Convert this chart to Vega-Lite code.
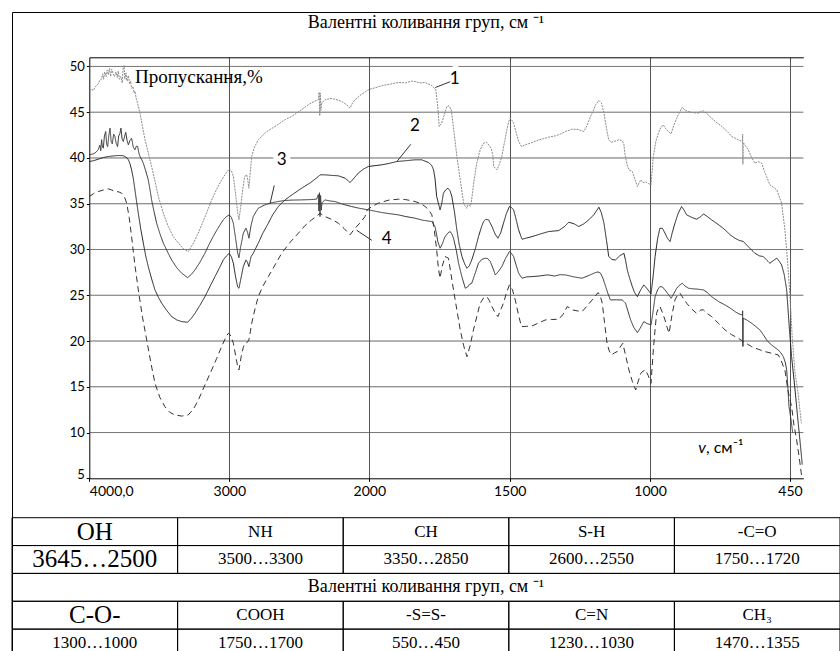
{
"$schema": "https://vega.github.io/schema/vega-lite/v6.json",
"width": 828, "height": 639,
"autosize": {"type": "none"},
"padding": {"left": 12, "top": 12, "right": 0, "bottom": 0},
"background": "white",
"config": {"view": {"stroke": "black", "strokeWidth": 1}},
"datasets": {
"sp": [
{"c":"g10","w":4000,"t":10},{"c":"g10","w":400,"t":10},{"c":"g15","w":4000,"t":15},{"c":"g15","w":400,"t":15},{"c":"g20","w":4000,"t":20},{"c":"g20","w":400,"t":20},{"c":"g25","w":4000,"t":25},{"c":"g25","w":400,"t":25},{"c":"g30","w":4000,"t":30},{"c":"g30","w":400,"t":30},{"c":"g35","w":4000,"t":35},{"c":"g35","w":400,"t":35},{"c":"g40","w":4000,"t":40},{"c":"g40","w":400,"t":40},{"c":"g45","w":4000,"t":45},{"c":"g45","w":400,"t":45},{"c":"g50","w":4000,"t":50},{"c":"g50","w":400,"t":50},
{"c":"1","w":4000,"t":47.27},{"c":"1","w":3985,"t":47.5},{"c":"1","w":3970,"t":47.4},{"c":"1","w":3960,"t":47.7},{"c":"1","w":3950,"t":47.9},{"c":"1","w":3936,"t":48.1},{"c":"1","w":3925,"t":48.5},{"c":"1","w":3912,"t":48.6},{"c":"1","w":3905,"t":49.2},{"c":"1","w":3898,"t":48.6},{"c":"1","w":3890,"t":49.4},{"c":"1","w":3880,"t":48.9},{"c":"1","w":3872,"t":49.6},{"c":"1","w":3864,"t":49.1},{"c":"1","w":3856,"t":49.8},{"c":"1","w":3848,"t":48.9},{"c":"1","w":3840,"t":49.7},{"c":"1","w":3830,"t":49.2},{"c":"1","w":3820,"t":48.9},{"c":"1","w":3810,"t":49.4},{"c":"1","w":3800,"t":48.8},{"c":"1","w":3793,"t":49.5},{"c":"1","w":3785,"t":48.6},{"c":"1","w":3775,"t":48.9},{"c":"1","w":3765,"t":48.2},{"c":"1","w":3758,"t":49.9},{"c":"1","w":3752,"t":50.1},{"c":"1","w":3746,"t":48.6},{"c":"1","w":3738,"t":49.3},{"c":"1","w":3730,"t":48.4},{"c":"1","w":3721,"t":49.0},{"c":"1","w":3712,"t":48.1},{"c":"1","w":3705,"t":48.4},{"c":"1","w":3698,"t":47.6},{"c":"1","w":3688,"t":47.8},{"c":"1","w":3680,"t":47.1},{"c":"1","w":3674,"t":47.3},{"c":"1","w":3665,"t":46.5},{"c":"1","w":3655,"t":46.0},{"c":"1","w":3645,"t":45.3},{"c":"1","w":3638,"t":44.9},{"c":"1","w":3620,"t":43.4},{"c":"1","w":3602,"t":42.0},{"c":"1","w":3578,"t":40.5},{"c":"1","w":3555,"t":39.07},{"c":"1","w":3530,"t":37.4},{"c":"1","w":3507,"t":35.8},{"c":"1","w":3470,"t":33.9},{"c":"1","w":3436,"t":32.5},{"c":"1","w":3400,"t":31.4},{"c":"1","w":3364,"t":30.7},{"c":"1","w":3330,"t":30.1},{"c":"1","w":3293,"t":29.77},{"c":"1","w":3260,"t":30.6},{"c":"1","w":3221,"t":31.8},{"c":"1","w":3170,"t":33.7},{"c":"1","w":3126,"t":35.4},{"c":"1","w":3090,"t":36.6},{"c":"1","w":3055,"t":37.6},{"c":"1","w":3025,"t":38.3},{"c":"1","w":3000,"t":38.8},{"c":"1","w":2985,"t":38.6},{"c":"1","w":2971,"t":37.97},{"c":"1","w":2955,"t":36.0},{"c":"1","w":2940,"t":34.0},{"c":"1","w":2931,"t":33.24},{"c":"1","w":2920,"t":34.5},{"c":"1","w":2905,"t":36.5},{"c":"1","w":2890,"t":37.97},{"c":"1","w":2876,"t":38.16},{"c":"1","w":2868,"t":37.6},{"c":"1","w":2860,"t":36.7},{"c":"1","w":2850,"t":38.5},{"c":"1","w":2840,"t":40.16},{"c":"1","w":2820,"t":41.2},{"c":"1","w":2793,"t":41.98},{"c":"1","w":2740,"t":42.8},{"c":"1","w":2674,"t":43.44},{"c":"1","w":2600,"t":44.2},{"c":"1","w":2555,"t":44.53},{"c":"1","w":2500,"t":45.1},{"c":"1","w":2436,"t":45.81},{"c":"1","w":2390,"t":46.2},{"c":"1","w":2364,"t":46.36},{"c":"1","w":2358,"t":47.2},{"c":"1","w":2354,"t":44.6},{"c":"1","w":2350,"t":47.1},{"c":"1","w":2346,"t":45.2},{"c":"1","w":2340,"t":46.0},{"c":"1","w":2317,"t":46.36},{"c":"1","w":2280,"t":46.5},{"c":"1","w":2245,"t":46.43},{"c":"1","w":2200,"t":46.2},{"c":"1","w":2160,"t":45.8},{"c":"1","w":2138,"t":45.44},{"c":"1","w":2120,"t":46.0},{"c":"1","w":2102,"t":46.36},{"c":"1","w":2060,"t":46.9},{"c":"1","w":2007,"t":47.45},{"c":"1","w":1956,"t":47.89},{"c":"1","w":1896,"t":48.25},{"c":"1","w":1870,"t":48.2},{"c":"1","w":1850,"t":48.4},{"c":"1","w":1837,"t":48.36},{"c":"1","w":1820,"t":48.2},{"c":"1","w":1801,"t":48.25},{"c":"1","w":1777,"t":47.89},{"c":"1","w":1763,"t":47.45},{"c":"1","w":1756,"t":45.6},{"c":"1","w":1751,"t":43.44},{"c":"1","w":1742,"t":43.8},{"c":"1","w":1724,"t":45.63},{"c":"1","w":1716,"t":45.7},{"c":"1","w":1708,"t":45.26},{"c":"1","w":1698,"t":42.8},{"c":"1","w":1688,"t":40.16},{"c":"1","w":1675,"t":37.4},{"c":"1","w":1664,"t":35.06},{"c":"1","w":1656,"t":34.6},{"c":"1","w":1652,"t":34.51},{"c":"1","w":1647,"t":35.06},{"c":"1","w":1640,"t":34.7},{"c":"1","w":1637,"t":35.06},{"c":"1","w":1627,"t":37.5},{"c":"1","w":1617,"t":39.43},{"c":"1","w":1605,"t":40.9},{"c":"1","w":1593,"t":41.62},{"c":"1","w":1581,"t":41.69},{"c":"1","w":1566,"t":41.07},{"c":"1","w":1560,"t":40.3},{"c":"1","w":1557,"t":39.07},{"c":"1","w":1545,"t":38.7},{"c":"1","w":1537,"t":39.3},{"c":"1","w":1528,"t":40.16},{"c":"1","w":1518,"t":41.8},{"c":"1","w":1510,"t":43.08},{"c":"1","w":1503,"t":44.0},{"c":"1","w":1498,"t":44.35},{"c":"1","w":1492,"t":44.1},{"c":"1","w":1486,"t":43.8},{"c":"1","w":1478,"t":42.9},{"c":"1","w":1468,"t":41.8},{"c":"1","w":1458,"t":41.25},{"c":"1","w":1444,"t":41.44},{"c":"1","w":1420,"t":41.69},{"c":"1","w":1396,"t":41.98},{"c":"1","w":1380,"t":42.1},{"c":"1","w":1361,"t":42.27},{"c":"1","w":1337,"t":42.42},{"c":"1","w":1320,"t":42.6},{"c":"1","w":1301,"t":42.89},{"c":"1","w":1277,"t":43.15},{"c":"1","w":1255,"t":43.1},{"c":"1","w":1236,"t":42.89},{"c":"1","w":1225,"t":43.5},{"c":"1","w":1212,"t":44.53},{"c":"1","w":1200,"t":45.3},{"c":"1","w":1194,"t":45.81},{"c":"1","w":1182,"t":46.28},{"c":"1","w":1173,"t":46.0},{"c":"1","w":1164,"t":44.9},{"c":"1","w":1155,"t":43.2},{"c":"1","w":1147,"t":41.98},{"c":"1","w":1138,"t":41.7},{"c":"1","w":1129,"t":41.8},{"c":"1","w":1111,"t":41.98},{"c":"1","w":1099,"t":41.9},{"c":"1","w":1093,"t":41.5},{"c":"1","w":1090,"t":40.52},{"c":"1","w":1082,"t":39.3},{"c":"1","w":1075,"t":38.7},{"c":"1","w":1063,"t":38.52},{"c":"1","w":1054,"t":37.7},{"c":"1","w":1045,"t":36.88},{"c":"1","w":1033,"t":37.61},{"c":"1","w":1025,"t":37.3},{"c":"1","w":1016,"t":37.4},{"c":"1","w":1005,"t":37.2},{"c":"1","w":996,"t":37.06},{"c":"1","w":987,"t":40.16},{"c":"1","w":977,"t":41.8},{"c":"1","w":967,"t":42.71},{"c":"1","w":958,"t":43.3},{"c":"1","w":948,"t":43.62},{"c":"1","w":938,"t":43.2},{"c":"1","w":928,"t":42.89},{"c":"1","w":917,"t":42.64},{"c":"1","w":906,"t":43.6},{"c":"1","w":895,"t":44.35},{"c":"1","w":884,"t":45.0},{"c":"1","w":873,"t":45.55},{"c":"1","w":862,"t":45.2},{"c":"1","w":849,"t":45.08},{"c":"1","w":830,"t":44.95},{"c":"1","w":810,"t":44.9},{"c":"1","w":800,"t":45.1},{"c":"1","w":790,"t":45.15},{"c":"1","w":775,"t":44.8},{"c":"1","w":758,"t":44.35},{"c":"1","w":740,"t":43.9},{"c":"1","w":718,"t":43.44},{"c":"1","w":700,"t":43.0},{"c":"1","w":679,"t":42.35},{"c":"1","w":653,"t":41.98},{"c":"1","w":637,"t":41.8},{"c":"1","w":636,"t":42.6},{"c":"1","w":635,"t":39.3},{"c":"1","w":634,"t":41.7},{"c":"1","w":614,"t":40.89},{"c":"1","w":600,"t":40.0},{"c":"1","w":588,"t":39.43},{"c":"1","w":575,"t":39.6},{"c":"1","w":561,"t":39.43},{"c":"1","w":550,"t":38.5},{"c":"1","w":542,"t":37.97},{"c":"1","w":529,"t":37.06},{"c":"1","w":515,"t":36.8},{"c":"1","w":502,"t":36.52},{"c":"1","w":483,"t":35.06},{"c":"1","w":470,"t":32.14},{"c":"1","w":459,"t":28.5},{"c":"1","w":450,"t":24.85},{"c":"1","w":441,"t":20.12},{"c":"1","w":431,"t":16.47},{"c":"1","w":421,"t":14.65},{"c":"1","w":413,"t":12.5},{"c":"1","w":407,"t":11.0},
{"c":"2","w":4000,"t":39.61},{"c":"2","w":3970,"t":39.7},{"c":"2","w":3936,"t":39.87},{"c":"2","w":3900,"t":40.05},{"c":"2","w":3864,"t":40.16},{"c":"2","w":3830,"t":40.22},{"c":"2","w":3793,"t":40.27},{"c":"2","w":3760,"t":40.25},{"c":"2","w":3745,"t":40.16},{"c":"2","w":3730,"t":40.0},{"c":"2","w":3721,"t":39.8},{"c":"2","w":3710,"t":39.4},{"c":"2","w":3698,"t":38.7},{"c":"2","w":3686,"t":37.8},{"c":"2","w":3674,"t":36.52},{"c":"2","w":3662,"t":35.2},{"c":"2","w":3650,"t":33.96},{"c":"2","w":3632,"t":32.2},{"c":"2","w":3614,"t":30.69},{"c":"2","w":3597,"t":29.3},{"c":"2","w":3579,"t":28.13},{"c":"2","w":3555,"t":26.8},{"c":"2","w":3531,"t":25.58},{"c":"2","w":3507,"t":24.8},{"c":"2","w":3483,"t":24.13},{"c":"2","w":3450,"t":23.4},{"c":"2","w":3412,"t":22.67},{"c":"2","w":3375,"t":22.3},{"c":"2","w":3340,"t":22.12},{"c":"2","w":3298,"t":22.05},{"c":"2","w":3270,"t":22.5},{"c":"2","w":3245,"t":23.03},{"c":"2","w":3210,"t":23.9},{"c":"2","w":3174,"t":24.85},{"c":"2","w":3140,"t":25.9},{"c":"2","w":3102,"t":27.04},{"c":"2","w":3070,"t":28.0},{"c":"2","w":3043,"t":28.86},{"c":"2","w":3020,"t":29.3},{"c":"2","w":3000,"t":29.59},{"c":"2","w":2985,"t":29.2},{"c":"2","w":2971,"t":28.5},{"c":"2","w":2955,"t":27.0},{"c":"2","w":2940,"t":25.9},{"c":"2","w":2931,"t":25.77},{"c":"2","w":2920,"t":26.6},{"c":"2","w":2900,"t":28.13},{"c":"2","w":2881,"t":28.86},{"c":"2","w":2870,"t":28.6},{"c":"2","w":2860,"t":28.13},{"c":"2","w":2845,"t":29.2},{"c":"2","w":2829,"t":29.59},{"c":"2","w":2793,"t":30.69},{"c":"2","w":2760,"t":31.8},{"c":"2","w":2721,"t":32.87},{"c":"2","w":2690,"t":33.8},{"c":"2","w":2650,"t":34.69},{"c":"2","w":2602,"t":35.42},{"c":"2","w":2550,"t":36.0},{"c":"2","w":2483,"t":36.7},{"c":"2","w":2420,"t":37.3},{"c":"2","w":2364,"t":37.97},{"c":"2","w":2352,"t":38.16},{"c":"2","w":2317,"t":38.16},{"c":"2","w":2270,"t":38.1},{"c":"2","w":2221,"t":38.05},{"c":"2","w":2174,"t":37.8},{"c":"2","w":2150,"t":37.5},{"c":"2","w":2138,"t":37.32},{"c":"2","w":2120,"t":37.6},{"c":"2","w":2079,"t":38.34},{"c":"2","w":2040,"t":38.8},{"c":"2","w":2007,"t":39.07},{"c":"2","w":1956,"t":39.25},{"c":"2","w":1930,"t":39.4},{"c":"2","w":1902,"t":39.61},{"c":"2","w":1870,"t":39.7},{"c":"2","w":1837,"t":39.8},{"c":"2","w":1813,"t":39.8},{"c":"2","w":1789,"t":39.5},{"c":"2","w":1778,"t":39.2},{"c":"2","w":1771,"t":38.7},{"c":"2","w":1766,"t":37.8},{"c":"2","w":1760,"t":35.79},{"c":"2","w":1748,"t":34.33},{"c":"2","w":1742,"t":35.0},{"c":"2","w":1736,"t":36.15},{"c":"2","w":1728,"t":36.5},{"c":"2","w":1720,"t":36.7},{"c":"2","w":1712,"t":36.4},{"c":"2","w":1706,"t":35.79},{"c":"2","w":1697,"t":34.2},{"c":"2","w":1688,"t":32.14},{"c":"2","w":1680,"t":30.6},{"c":"2","w":1670,"t":29.23},{"c":"2","w":1660,"t":28.4},{"c":"2","w":1652,"t":27.95},{"c":"2","w":1644,"t":28.2},{"c":"2","w":1635,"t":28.86},{"c":"2","w":1622,"t":30.1},{"c":"2","w":1611,"t":31.41},{"c":"2","w":1600,"t":32.5},{"c":"2","w":1593,"t":33.05},{"c":"2","w":1585,"t":33.3},{"c":"2","w":1575,"t":33.24},{"c":"2","w":1563,"t":32.51},{"c":"2","w":1552,"t":31.7},{"c":"2","w":1542,"t":31.23},{"c":"2","w":1532,"t":31.8},{"c":"2","w":1522,"t":32.87},{"c":"2","w":1512,"t":33.9},{"c":"2","w":1501,"t":34.69},{"c":"2","w":1494,"t":34.6},{"c":"2","w":1486,"t":34.33},{"c":"2","w":1477,"t":33.3},{"c":"2","w":1468,"t":32.14},{"c":"2","w":1456,"t":31.12},{"c":"2","w":1440,"t":31.25},{"c":"2","w":1420,"t":31.41},{"c":"2","w":1390,"t":31.7},{"c":"2","w":1361,"t":31.96},{"c":"2","w":1325,"t":32.07},{"c":"2","w":1305,"t":32.5},{"c":"2","w":1289,"t":32.98},{"c":"2","w":1270,"t":32.8},{"c":"2","w":1254,"t":32.51},{"c":"2","w":1236,"t":32.8},{"c":"2","w":1218,"t":33.24},{"c":"2","w":1200,"t":33.8},{"c":"2","w":1182,"t":34.62},{"c":"2","w":1173,"t":34.0},{"c":"2","w":1164,"t":32.87},{"c":"2","w":1155,"t":31.0},{"c":"2","w":1147,"t":29.23},{"c":"2","w":1135,"t":28.9},{"c":"2","w":1123,"t":28.86},{"c":"2","w":1108,"t":29.3},{"c":"2","w":1093,"t":29.59},{"c":"2","w":1087,"t":28.8},{"c":"2","w":1081,"t":27.77},{"c":"2","w":1072,"t":26.8},{"c":"2","w":1063,"t":25.95},{"c":"2","w":1055,"t":25.3},{"c":"2","w":1045,"t":24.85},{"c":"2","w":1033,"t":25.6},{"c":"2","w":1022,"t":26.13},{"c":"2","w":1010,"t":25.7},{"c":"2","w":996,"t":25.15},{"c":"2","w":988,"t":27.0},{"c":"2","w":980,"t":29.23},{"c":"2","w":970,"t":31.2},{"c":"2","w":961,"t":32.33},{"c":"2","w":951,"t":32.3},{"c":"2","w":941,"t":31.78},{"c":"2","w":931,"t":31.2},{"c":"2","w":921,"t":30.87},{"c":"2","w":912,"t":31.9},{"c":"2","w":902,"t":32.87},{"c":"2","w":890,"t":33.9},{"c":"2","w":876,"t":34.69},{"c":"2","w":866,"t":34.3},{"c":"2","w":856,"t":33.78},{"c":"2","w":835,"t":33.5},{"c":"2","w":817,"t":33.31},{"c":"2","w":800,"t":33.6},{"c":"2","w":790,"t":33.89},{"c":"2","w":775,"t":33.6},{"c":"2","w":758,"t":33.24},{"c":"2","w":730,"t":32.7},{"c":"2","w":705,"t":32.14},{"c":"2","w":685,"t":31.6},{"c":"2","w":666,"t":31.23},{"c":"2","w":650,"t":31.0},{"c":"2","w":633,"t":30.87},{"c":"2","w":610,"t":30.2},{"c":"2","w":588,"t":29.59},{"c":"2","w":570,"t":29.3},{"c":"2","w":555,"t":29.23},{"c":"2","w":540,"t":28.8},{"c":"2","w":529,"t":28.5},{"c":"2","w":515,"t":28.8},{"c":"2","w":502,"t":29.05},{"c":"2","w":492,"t":28.7},{"c":"2","w":483,"t":28.32},{"c":"2","w":473,"t":27.3},{"c":"2","w":463,"t":25.58},{"c":"2","w":454,"t":21.94},{"c":"2","w":444,"t":18.29},{"c":"2","w":431,"t":14.65},{"c":"2","w":419,"t":11.0},{"c":"2","w":409,"t":8.09},{"c":"2","w":404,"t":6.5},
{"c":"3","w":4000,"t":40.34},{"c":"3","w":3985,"t":40.4},{"c":"3","w":3971,"t":40.45},{"c":"3","w":3955,"t":40.6},{"c":"3","w":3936,"t":40.9},{"c":"3","w":3925,"t":41.4},{"c":"3","w":3918,"t":40.8},{"c":"3","w":3912,"t":42.0},{"c":"3","w":3906,"t":41.2},{"c":"3","w":3900,"t":41.07},{"c":"3","w":3892,"t":42.4},{"c":"3","w":3883,"t":42.89},{"c":"3","w":3876,"t":41.5},{"c":"3","w":3869,"t":41.25},{"c":"3","w":3860,"t":42.5},{"c":"3","w":3852,"t":43.26},{"c":"3","w":3844,"t":41.8},{"c":"3","w":3836,"t":41.55},{"c":"3","w":3826,"t":42.6},{"c":"3","w":3817,"t":42.35},{"c":"3","w":3808,"t":41.6},{"c":"3","w":3798,"t":41.25},{"c":"3","w":3790,"t":42.4},{"c":"3","w":3781,"t":42.7},{"c":"3","w":3774,"t":43.26},{"c":"3","w":3766,"t":42.1},{"c":"3","w":3757,"t":41.8},{"c":"3","w":3749,"t":42.3},{"c":"3","w":3740,"t":42.8},{"c":"3","w":3730,"t":41.9},{"c":"3","w":3721,"t":41.44},{"c":"3","w":3710,"t":41.9},{"c":"3","w":3698,"t":42.16},{"c":"3","w":3686,"t":41.2},{"c":"3","w":3674,"t":40.89},{"c":"3","w":3664,"t":41.3},{"c":"3","w":3655,"t":41.25},{"c":"3","w":3645,"t":40.5},{"c":"3","w":3638,"t":40.16},{"c":"3","w":3625,"t":39.8},{"c":"3","w":3614,"t":39.43},{"c":"3","w":3597,"t":38.6},{"c":"3","w":3579,"t":37.61},{"c":"3","w":3567,"t":36.6},{"c":"3","w":3555,"t":35.42},{"c":"3","w":3537,"t":34.1},{"c":"3","w":3519,"t":32.87},{"c":"3","w":3495,"t":31.7},{"c":"3","w":3471,"t":30.69},{"c":"3","w":3440,"t":29.7},{"c":"3","w":3412,"t":28.86},{"c":"3","w":3375,"t":28.0},{"c":"3","w":3340,"t":27.41},{"c":"3","w":3298,"t":26.93},{"c":"3","w":3270,"t":27.3},{"c":"3","w":3245,"t":27.77},{"c":"3","w":3210,"t":28.6},{"c":"3","w":3174,"t":29.59},{"c":"3","w":3140,"t":30.7},{"c":"3","w":3102,"t":31.78},{"c":"3","w":3070,"t":32.6},{"c":"3","w":3043,"t":33.24},{"c":"3","w":3020,"t":33.6},{"c":"3","w":3000,"t":33.78},{"c":"3","w":2985,"t":33.5},{"c":"3","w":2971,"t":32.87},{"c":"3","w":2955,"t":31.2},{"c":"3","w":2940,"t":29.6},{"c":"3","w":2931,"t":29.1},{"c":"3","w":2920,"t":30.2},{"c":"3","w":2900,"t":31.78},{"c":"3","w":2881,"t":32.33},{"c":"3","w":2870,"t":31.9},{"c":"3","w":2860,"t":31.23},{"c":"3","w":2845,"t":32.6},{"c":"3","w":2829,"t":33.6},{"c":"3","w":2810,"t":34.1},{"c":"3","w":2793,"t":34.51},{"c":"3","w":2750,"t":34.85},{"c":"3","w":2710,"t":35.06},{"c":"3","w":2650,"t":35.25},{"c":"3","w":2602,"t":35.35},{"c":"3","w":2550,"t":35.4},{"c":"3","w":2483,"t":35.42},{"c":"3","w":2420,"t":35.45},{"c":"3","w":2376,"t":35.5},{"c":"3","w":2364,"t":36.0},{"c":"3","w":2360,"t":34.2},{"c":"3","w":2356,"t":36.2},{"c":"3","w":2352,"t":33.6},{"c":"3","w":2348,"t":35.9},{"c":"3","w":2343,"t":34.3},{"c":"3","w":2338,"t":35.1},{"c":"3","w":2317,"t":35.42},{"c":"3","w":2280,"t":35.3},{"c":"3","w":2245,"t":35.24},{"c":"3","w":2190,"t":34.95},{"c":"3","w":2126,"t":34.69},{"c":"3","w":2070,"t":34.5},{"c":"3","w":2007,"t":34.33},{"c":"3","w":1956,"t":34.04},{"c":"3","w":1896,"t":33.78},{"c":"3","w":1870,"t":33.6},{"c":"3","w":1837,"t":33.42},{"c":"3","w":1810,"t":33.2},{"c":"3","w":1777,"t":33.05},{"c":"3","w":1766,"t":32.51},{"c":"3","w":1760,"t":31.6},{"c":"3","w":1756,"t":30.87},{"c":"3","w":1748,"t":30.14},{"c":"3","w":1740,"t":30.6},{"c":"3","w":1730,"t":31.41},{"c":"3","w":1720,"t":31.8},{"c":"3","w":1712,"t":31.96},{"c":"3","w":1706,"t":31.7},{"c":"3","w":1700,"t":31.23},{"c":"3","w":1690,"t":29.9},{"c":"3","w":1682,"t":28.5},{"c":"3","w":1670,"t":27.0},{"c":"3","w":1658,"t":25.77},{"c":"3","w":1650,"t":25.9},{"c":"3","w":1643,"t":26.2},{"c":"3","w":1635,"t":26.31},{"c":"3","w":1625,"t":27.2},{"c":"3","w":1611,"t":28.5},{"c":"3","w":1600,"t":28.9},{"c":"3","w":1587,"t":29.05},{"c":"3","w":1578,"t":29.0},{"c":"3","w":1569,"t":28.68},{"c":"3","w":1560,"t":28.0},{"c":"3","w":1551,"t":27.22},{"c":"3","w":1540,"t":27.6},{"c":"3","w":1528,"t":28.13},{"c":"3","w":1515,"t":29.0},{"c":"3","w":1501,"t":29.77},{"c":"3","w":1494,"t":29.6},{"c":"3","w":1486,"t":29.23},{"c":"3","w":1477,"t":28.3},{"c":"3","w":1468,"t":27.41},{"c":"3","w":1456,"t":26.86},{"c":"3","w":1440,"t":27.0},{"c":"3","w":1420,"t":27.04},{"c":"3","w":1395,"t":27.1},{"c":"3","w":1373,"t":27.2},{"c":"3","w":1361,"t":27.22},{"c":"3","w":1340,"t":27.1},{"c":"3","w":1320,"t":27.25},{"c":"3","w":1301,"t":27.22},{"c":"3","w":1270,"t":27.0},{"c":"3","w":1242,"t":26.86},{"c":"3","w":1215,"t":27.2},{"c":"3","w":1194,"t":27.48},{"c":"3","w":1185,"t":27.55},{"c":"3","w":1176,"t":27.41},{"c":"3","w":1167,"t":26.8},{"c":"3","w":1158,"t":25.95},{"c":"3","w":1150,"t":25.2},{"c":"3","w":1141,"t":24.49},{"c":"3","w":1120,"t":24.5},{"c":"3","w":1099,"t":24.49},{"c":"3","w":1087,"t":24.13},{"c":"3","w":1078,"t":23.2},{"c":"3","w":1069,"t":22.3},{"c":"3","w":1058,"t":21.5},{"c":"3","w":1045,"t":20.92},{"c":"3","w":1035,"t":21.4},{"c":"3","w":1022,"t":22.12},{"c":"3","w":1010,"t":21.9},{"c":"3","w":996,"t":21.76},{"c":"3","w":988,"t":23.2},{"c":"3","w":980,"t":24.85},{"c":"3","w":970,"t":25.6},{"c":"3","w":961,"t":25.95},{"c":"3","w":951,"t":25.9},{"c":"3","w":941,"t":25.58},{"c":"3","w":928,"t":25.1},{"c":"3","w":917,"t":24.67},{"c":"3","w":906,"t":25.2},{"c":"3","w":895,"t":25.77},{"c":"3","w":884,"t":26.1},{"c":"3","w":873,"t":26.31},{"c":"3","w":862,"t":26.0},{"c":"3","w":849,"t":25.77},{"c":"3","w":830,"t":25.7},{"c":"3","w":810,"t":25.66},{"c":"3","w":790,"t":25.58},{"c":"3","w":775,"t":25.3},{"c":"3","w":758,"t":24.85},{"c":"3","w":730,"t":24.3},{"c":"3","w":705,"t":23.94},{"c":"3","w":685,"t":23.6},{"c":"3","w":666,"t":23.21},{"c":"3","w":650,"t":22.95},{"c":"3","w":637,"t":22.85},{"c":"3","w":636,"t":23.3},{"c":"3","w":635,"t":19.4},{"c":"3","w":634,"t":22.5},{"c":"3","w":620,"t":22.3},{"c":"3","w":601,"t":21.94},{"c":"3","w":585,"t":21.6},{"c":"3","w":568,"t":21.21},{"c":"3","w":555,"t":20.7},{"c":"3","w":542,"t":20.12},{"c":"3","w":532,"t":19.8},{"c":"3","w":522,"t":19.57},{"c":"3","w":510,"t":19.3},{"c":"3","w":496,"t":19.02},{"c":"3","w":486,"t":18.7},{"c":"3","w":476,"t":18.29},{"c":"3","w":468,"t":17.6},{"c":"3","w":463,"t":16.84},{"c":"3","w":458,"t":14.8},{"c":"3","w":454,"t":12.83},{"c":"3","w":446,"t":11.37},{"c":"3","w":440,"t":10.0},
{"c":"4","w":4000,"t":35.79},{"c":"4","w":3970,"t":36.1},{"c":"4","w":3936,"t":36.33},{"c":"4","w":3900,"t":36.5},{"c":"4","w":3864,"t":36.63},{"c":"4","w":3840,"t":36.5},{"c":"4","w":3817,"t":36.33},{"c":"4","w":3790,"t":36.3},{"c":"4","w":3769,"t":36.15},{"c":"4","w":3750,"t":35.8},{"c":"4","w":3733,"t":35.06},{"c":"4","w":3715,"t":33.5},{"c":"4","w":3698,"t":31.41},{"c":"4","w":3675,"t":28.4},{"c":"4","w":3650,"t":25.58},{"c":"4","w":3620,"t":22.6},{"c":"4","w":3590,"t":20.12},{"c":"4","w":3560,"t":17.6},{"c":"4","w":3531,"t":15.38},{"c":"4","w":3495,"t":13.8},{"c":"4","w":3460,"t":12.83},{"c":"4","w":3425,"t":12.2},{"c":"4","w":3388,"t":11.92},{"c":"4","w":3340,"t":11.8},{"c":"4","w":3293,"t":11.92},{"c":"4","w":3255,"t":12.6},{"c":"4","w":3221,"t":13.56},{"c":"4","w":3174,"t":15.2},{"c":"4","w":3126,"t":16.84},{"c":"4","w":3090,"t":18.1},{"c":"4","w":3055,"t":19.39},{"c":"4","w":3025,"t":20.4},{"c":"4","w":3007,"t":20.85},{"c":"4","w":2995,"t":20.7},{"c":"4","w":2985,"t":20.4},{"c":"4","w":2971,"t":19.75},{"c":"4","w":2950,"t":18.0},{"c":"4","w":2940,"t":17.2},{"c":"4","w":2931,"t":16.84},{"c":"4","w":2915,"t":18.3},{"c":"4","w":2900,"t":19.3},{"c":"4","w":2888,"t":19.75},{"c":"4","w":2875,"t":19.8},{"c":"4","w":2860,"t":20.12},{"c":"4","w":2850,"t":21.0},{"c":"4","w":2840,"t":21.94},{"c":"4","w":2815,"t":23.6},{"c":"4","w":2793,"t":24.85},{"c":"4","w":2760,"t":26.0},{"c":"4","w":2721,"t":27.04},{"c":"4","w":2670,"t":28.4},{"c":"4","w":2626,"t":29.59},{"c":"4","w":2565,"t":30.8},{"c":"4","w":2507,"t":31.78},{"c":"4","w":2460,"t":32.6},{"c":"4","w":2412,"t":33.24},{"c":"4","w":2380,"t":33.6},{"c":"4","w":2352,"t":33.96},{"c":"4","w":2317,"t":33.6},{"c":"4","w":2270,"t":33.3},{"c":"4","w":2221,"t":32.87},{"c":"4","w":2180,"t":32.3},{"c":"4","w":2138,"t":31.6},{"c":"4","w":2102,"t":32.33},{"c":"4","w":2060,"t":33.0},{"c":"4","w":2031,"t":33.6},{"c":"4","w":2015,"t":34.33},{"c":"4","w":1990,"t":34.7},{"c":"4","w":1968,"t":35.06},{"c":"4","w":1930,"t":35.4},{"c":"4","w":1896,"t":35.5},{"c":"4","w":1870,"t":35.45},{"c":"4","w":1837,"t":35.24},{"c":"4","w":1815,"t":35.0},{"c":"4","w":1801,"t":34.69},{"c":"4","w":1790,"t":34.4},{"c":"4","w":1777,"t":33.78},{"c":"4","w":1768,"t":32.0},{"c":"4","w":1760,"t":29.96},{"c":"4","w":1754,"t":28.0},{"c":"4","w":1748,"t":26.86},{"c":"4","w":1740,"t":28.2},{"c":"4","w":1730,"t":29.23},{"c":"4","w":1718,"t":29.05},{"c":"4","w":1709,"t":27.3},{"c":"4","w":1700,"t":25.58},{"c":"4","w":1688,"t":23.4},{"c":"4","w":1676,"t":21.21},{"c":"4","w":1664,"t":19.5},{"c":"4","w":1652,"t":18.29},{"c":"4","w":1640,"t":19.6},{"c":"4","w":1629,"t":21.21},{"c":"4","w":1616,"t":22.8},{"c":"4","w":1605,"t":24.13},{"c":"4","w":1593,"t":24.7},{"c":"4","w":1581,"t":24.85},{"c":"4","w":1572,"t":24.4},{"c":"4","w":1563,"t":23.76},{"c":"4","w":1552,"t":23.1},{"c":"4","w":1542,"t":22.67},{"c":"4","w":1532,"t":23.4},{"c":"4","w":1522,"t":24.13},{"c":"4","w":1512,"t":25.2},{"c":"4","w":1501,"t":26.13},{"c":"4","w":1490,"t":25.6},{"c":"4","w":1480,"t":24.49},{"c":"4","w":1468,"t":22.8},{"c":"4","w":1458,"t":21.57},{"c":"4","w":1440,"t":21.6},{"c":"4","w":1420,"t":21.65},{"c":"4","w":1395,"t":22.0},{"c":"4","w":1373,"t":22.3},{"c":"4","w":1350,"t":22.35},{"c":"4","w":1325,"t":22.38},{"c":"4","w":1310,"t":22.9},{"c":"4","w":1295,"t":23.76},{"c":"4","w":1285,"t":23.6},{"c":"4","w":1277,"t":23.4},{"c":"4","w":1260,"t":23.3},{"c":"4","w":1242,"t":23.21},{"c":"4","w":1225,"t":23.8},{"c":"4","w":1206,"t":24.49},{"c":"4","w":1195,"t":24.9},{"c":"4","w":1185,"t":25.29},{"c":"4","w":1178,"t":25.0},{"c":"4","w":1170,"t":24.13},{"c":"4","w":1162,"t":22.0},{"c":"4","w":1153,"t":19.75},{"c":"4","w":1145,"t":18.9},{"c":"4","w":1137,"t":18.48},{"c":"4","w":1127,"t":18.7},{"c":"4","w":1117,"t":18.84},{"c":"4","w":1107,"t":19.3},{"c":"4","w":1097,"t":19.75},{"c":"4","w":1086,"t":18.3},{"c":"4","w":1075,"t":16.84},{"c":"4","w":1063,"t":15.6},{"c":"4","w":1051,"t":14.65},{"c":"4","w":1042,"t":15.6},{"c":"4","w":1033,"t":16.47},{"c":"4","w":1025,"t":16.7},{"c":"4","w":1016,"t":16.84},{"c":"4","w":1006,"t":16.2},{"c":"4","w":996,"t":15.38},{"c":"4","w":987,"t":19.02},{"c":"4","w":980,"t":21.3},{"c":"4","w":974,"t":23.03},{"c":"4","w":967,"t":23.6},{"c":"4","w":961,"t":23.76},{"c":"4","w":951,"t":23.1},{"c":"4","w":941,"t":22.3},{"c":"4","w":933,"t":21.5},{"c":"4","w":925,"t":20.85},{"c":"4","w":914,"t":22.8},{"c":"4","w":902,"t":24.49},{"c":"4","w":892,"t":25.0},{"c":"4","w":882,"t":25.22},{"c":"4","w":870,"t":24.7},{"c":"4","w":856,"t":24.13},{"c":"4","w":836,"t":23.5},{"c":"4","w":817,"t":23.03},{"c":"4","w":808,"t":23.2},{"c":"4","w":800,"t":23.4},{"c":"4","w":790,"t":23.4},{"c":"4","w":775,"t":23.0},{"c":"4","w":758,"t":22.67},{"c":"4","w":730,"t":21.9},{"c":"4","w":705,"t":21.21},{"c":"4","w":680,"t":20.7},{"c":"4","w":653,"t":20.3},{"c":"4","w":628,"t":19.85},{"c":"4","w":601,"t":19.39},{"c":"4","w":575,"t":19.1},{"c":"4","w":548,"t":18.84},{"c":"4","w":520,"t":18.65},{"c":"4","w":496,"t":18.48},{"c":"4","w":485,"t":17.9},{"c":"4","w":476,"t":17.2},{"c":"4","w":470,"t":16.84},{"c":"4","w":458,"t":14.6},{"c":"4","w":444,"t":12.83},{"c":"4","w":435,"t":10.8},{"c":"4","w":425,"t":9.18},{"c":"4","w":415,"t":7.2},{"c":"4","w":406,"t":5.18}
],
"labels": [
{"w":1696,"t":48.6,"s":"1"},{"w":1837,"t":43.5,"s":"2"},{"w":2626,"t":39.8,"s":"3"},{"w":1938,"t":31.1,"s":"4"}
],
"cells": [
{"row":0,"col":0,"s":"OH"},{"row":0,"col":1,"s":"NH"},{"row":0,"col":2,"s":"CH"},{"row":0,"col":3,"s":"S-H"},{"row":0,"col":4,"s":"-C=O"},
{"row":1,"col":0,"s":"3645…2500"},{"row":1,"col":1,"s":"3500…3300"},{"row":1,"col":2,"s":"3350…2850"},{"row":1,"col":3,"s":"2600…2550"},{"row":1,"col":4,"s":"1750…1720"},
{"row":3,"col":0,"s":"C-O-"},{"row":3,"col":1,"s":"COOH"},{"row":3,"col":2,"s":"-S=S-"},{"row":3,"col":3,"s":"C=N"},{"row":3,"col":4,"s":"CH₃"},
{"row":4,"col":0,"s":"1300…1000"},{"row":4,"col":1,"s":"1750…1700"},{"row":4,"col":2,"s":"550…450"},{"row":4,"col":3,"s":"1230…1030"},{"row":4,"col":4,"s":"1470…1355"}
]
},
"layer": [
{
"layer": [
{
"data": {"name": "labels"},
"mark": {"type": "text", "color": "white", "stroke": "white", "strokeWidth": 12, "strokeJoin": "round", "font": "Lato", "fontSize": 17, "baseline": "middle", "align": "center"},
"encoding": {
"x": {"field": "w", "type": "quantitative", "scale": {"domain": [4000, 2000, 1000, 450, 400], "range": [77.3, 357.3, 638, 778, 791.3], "nice": false, "zero": false},
 "axis": {"orient": "top", "offset": -45.3, "values": [3000, 2000, 1500, 1000, 450], "grid": true, "gridColor": "#555555", "gridWidth": 1, "labels": false, "ticks": false, "domain": true, "domainColor": "black", "title": null}},
"y": {"field": "t", "type": "quantitative", "scale": {"domain": [5, 51], "range": [466.3, 45.3], "nice": false, "zero": false},
 "axis": {"orient": "left", "offset": -77.3, "values": [5, 10, 15, 20, 25, 30, 35, 40, 45, 50], "grid": false, "title": null, "domainColor": "black", "tickColor": "black", "tickSize": 3, "labelFont": "Lato", "labelFontSize": 13, "labelColor": "black", "labelPadding": 2, "labelBaseline": {"condition": {"test": "datum.value == 5", "value": "alphabetic"}, "value": "middle"}}},
"text": {"field": "s"}
}
},
{
"data": {"name": "sp"},
"mark": {"type": "line", "interpolate": "linear"},
"encoding": {
"x": {"field": "w", "type": "quantitative", "scale": {"domain": [4000, 2000, 1000, 450, 400], "range": [77.3, 357.3, 638, 778, 791.3], "nice": false, "zero": false},
 "axis": {"orient": "bottom", "offset": -172.7, "values": [4000, 3000, 2000, 1500, 1000, 450], "grid": false, "title": null, "domainColor": "black", "tickColor": "black", "tickSize": 3, "labelFont": "Lato", "labelFontSize": 14, "labelColor": "black", "labelPadding": 3, "labelFlush": false, "labelOverlap": false, "labelExpr": "datum.value == 4000 ? '4000,0' : format(datum.value, 'd')", "labelAlign": {"condition": {"test": "datum.value == 4000", "value": "left"}, "value": "center"}}},
"y": {"field": "t", "type": "quantitative", "scale": {"domain": [5, 51], "range": [466.3, 45.3], "nice": false, "zero": false}, "axis": null},
"color": {"field": "c", "type": "nominal", "scale": {"domain": ["g10", "g15", "g20", "g25", "g30", "g35", "g40", "g45", "g50", "1", "2", "3", "4"], "range": ["#555555", "#555555", "#555555", "#555555", "#555555", "#555555", "#555555", "#555555", "#555555", "#8a8a8a", "#222222", "#333333", "#333333"]}, "legend": null},
"strokeDash": {"field": "c", "type": "nominal", "scale": {"domain": ["g10", "g15", "g20", "g25", "g30", "g35", "g40", "g45", "g50", "1", "2", "3", "4"], "range": [[1, 0], [1, 0], [1, 0], [1, 0], [1, 0], [1, 0], [1, 0], [1, 0], [1, 0], [2, 1], [1, 0], [1, 0], [6, 4]]}, "legend": null},
"strokeWidth": {"field": "c", "type": "ordinal", "scale": {"domain": ["g10", "g15", "g20", "g25", "g30", "g35", "g40", "g45", "g50", "1", "2", "3", "4"], "range": [1, 1, 1, 1, 1, 1, 1, 1, 1, 1.3, 1.6, 1.2, 1.3]}, "legend": null}
}
},
{
"data": {"name": "labels"},
"mark": {"type": "text", "color": "white", "stroke": "white", "strokeWidth": 10, "strokeJoin": "round", "font": "Lato", "fontSize": 17, "baseline": "middle", "align": "center"},
"encoding": {
"x": {"field": "w", "type": "quantitative", "scale": {"domain": [4000, 2000, 1000, 450, 400], "range": [77.3, 357.3, 638, 778, 791.3], "nice": false, "zero": false}, "axis": null},
"y": {"field": "t", "type": "quantitative", "scale": {"domain": [5, 51], "range": [466.3, 45.3], "nice": false, "zero": false}, "axis": null},
"text": {"field": "s"}
}
},
{
"data": {"values": [
{"w1":1712,"t1":48.33,"w2":1765,"t2":47.7},
{"w1":1852,"t1":41.5,"w2":1902,"t2":39.6},
{"w1":2679,"t1":37.0,"w2":2709,"t2":35.0},
{"w1":2090,"t1":32.1,"w2":1991,"t2":31.0}
]},
"mark": {"type": "rule", "color": "#333333", "strokeWidth": 1},
"encoding": {
"x": {"field": "w1", "type": "quantitative", "scale": {"domain": [4000, 2000, 1000, 450, 400], "range": [77.3, 357.3, 638, 778, 791.3], "nice": false, "zero": false}, "axis": null},
"y": {"field": "t1", "type": "quantitative", "scale": {"domain": [5, 51], "range": [466.3, 45.3], "nice": false, "zero": false}, "axis": null},
"x2": {"field": "w2"},
"y2": {"field": "t2"}
}
},
{
"data": {"name": "labels"},
"mark": {"type": "text", "color": "black", "baseline": "middle", "align": "center", "font": "Lato", "fontSize": 17},
"encoding": {
"x": {"field": "w", "type": "quantitative", "scale": {"domain": [4000, 2000, 1000, 450, 400], "range": [77.3, 357.3, 638, 778, 791.3], "nice": false, "zero": false}, "axis": null},
"y": {"field": "t", "type": "quantitative", "scale": {"domain": [5, 51], "range": [466.3, 45.3], "nice": false, "zero": false}, "axis": null},
"text": {"field": "s"}
}
},
{
"data": {"values": [{"w": 3674, "t": 48.87, "s": "Пропускання,%"}]},
"mark": {"type": "text", "color": "black", "font": "Liberation Serif", "fontSize": 19, "baseline": "middle", "align": "left"},
"encoding": {
"x": {"field": "w", "type": "quantitative", "scale": {"domain": [4000, 2000, 1000, 450, 400], "range": [77.3, 357.3, 638, 778, 791.3], "nice": false, "zero": false}, "axis": null},
"y": {"field": "t", "type": "quantitative", "scale": {"domain": [5, 51], "range": [466.3, 45.3], "nice": false, "zero": false}, "axis": null},
"text": {"field": "s"}
}
},
{
"mark": {"type": "rule", "color": "black", "strokeWidth": 1},
"encoding": {
"x": {"datum": 400, "type": "quantitative", "scale": {"domain": [4000, 2000, 1000, 450, 400], "range": [77.3, 357.3, 638, 778, 791.3], "nice": false, "zero": false}, "axis": null},
"y": {"datum": 5, "type": "quantitative", "scale": {"domain": [5, 51], "range": [466.3, 45.3], "nice": false, "zero": false}, "axis": null},
"y2": {"datum": 51}
}
},
{
"data": {"values": [{"w": 780, "t": 7.77, "s": "v"}]},
"mark": {"type": "text", "font": "Lato", "fontSize": 16, "fontStyle": "italic", "align": "right", "baseline": "alphabetic", "color": "black"},
"encoding": {
"x": {"field": "w", "type": "quantitative", "scale": {"domain": [4000, 2000, 1000, 450, 400], "range": [77.3, 357.3, 638, 778, 791.3], "nice": false, "zero": false}, "axis": null},
"y": {"field": "t", "type": "quantitative", "scale": {"domain": [5, 51], "range": [466.3, 45.3], "nice": false, "zero": false}, "axis": null},
"text": {"field": "s"}
}
},
{
"data": {"values": [{"w": 780, "t": 7.77, "s": ", см⁻¹"}]},
"mark": {"type": "text", "font": "Lato", "fontSize": 16, "align": "left", "baseline": "alphabetic", "color": "black"},
"encoding": {
"x": {"field": "w", "type": "quantitative", "scale": {"domain": [4000, 2000, 1000, 450, 400], "range": [77.3, 357.3, 638, 778, 791.3], "nice": false, "zero": false}, "axis": null},
"y": {"field": "t", "type": "quantitative", "scale": {"domain": [5, 51], "range": [466.3, 45.3], "nice": false, "zero": false}, "axis": null},
"text": {"field": "s"}
}
},
{
"data": {"values": [{"t": 54.78, "s": "Валентні коливання груп, см ⁻¹"}]},
"mark": {"type": "text", "font": "Liberation Serif", "fontSize": 18, "baseline": "middle", "align": "center", "color": "black"},
"encoding": {
"y": {"field": "t", "type": "quantitative", "scale": {"domain": [5, 51], "range": [466.3, 45.3], "nice": false, "zero": false}, "axis": null},
"text": {"field": "s"}
}
}
],
"resolve": {"axis": {"x": "independent", "y": "independent"}}
},
{
"layer": [
{
"data": {"name": "cells"},
"layer": [
{
"mark": {"type": "rect", "filled": false, "stroke": "black", "strokeWidth": 1},
"encoding": {
"x": {"field": "col", "type": "ordinal", "scale": {"type": "band", "domain": [0, 1, 2, 3, 4], "paddingInner": 0, "paddingOuter": 0}, "axis": null},
"y": {"field": "row", "type": "ordinal", "scale": {"type": "band", "domain": [0, 1, 2, 3, 4], "range": [505.7, 645], "paddingInner": 0, "paddingOuter": 0}, "axis": null}
}
},
{
"mark": {"type": "text", "font": "Liberation Serif", "baseline": "middle", "align": "center", "color": "black"},
"encoding": {
"x": {"field": "col", "type": "ordinal", "scale": {"type": "band", "domain": [0, 1, 2, 3, 4], "paddingInner": 0, "paddingOuter": 0}, "axis": null},
"y": {"field": "row", "type": "ordinal", "scale": {"type": "band", "domain": [0, 1, 2, 3, 4], "range": [505.7, 645], "paddingInner": 0, "paddingOuter": 0}, "axis": null},
"text": {"field": "s"},
"size": {"condition": {"test": "datum.col == 0 && datum.row != 4", "value": 25}, "value": 17}
}
}
]
},
{
"data": {"values": [{"row": 2, "s": "Валентні коливання груп, см ⁻¹"}]},
"layer": [
{
"mark": {"type": "rect", "filled": false, "stroke": "black", "strokeWidth": 1},
"encoding": {
"y": {"field": "row", "type": "ordinal", "scale": {"type": "band", "domain": [0, 1, 2, 3, 4], "range": [505.7, 645], "paddingInner": 0, "paddingOuter": 0}, "axis": null}
}
},
{
"mark": {"type": "text", "font": "Liberation Serif", "fontSize": 18, "baseline": "middle", "align": "center", "color": "black"},
"encoding": {
"y": {"field": "row", "type": "ordinal", "scale": {"type": "band", "domain": [0, 1, 2, 3, 4], "range": [505.7, 645], "paddingInner": 0, "paddingOuter": 0}, "axis": null},
"text": {"field": "s"}
}
}
]
}
]
}
],
"resolve": {"scale": {"x": "independent", "y": "independent"}, "axis": {"x": "independent", "y": "independent"}}
}
